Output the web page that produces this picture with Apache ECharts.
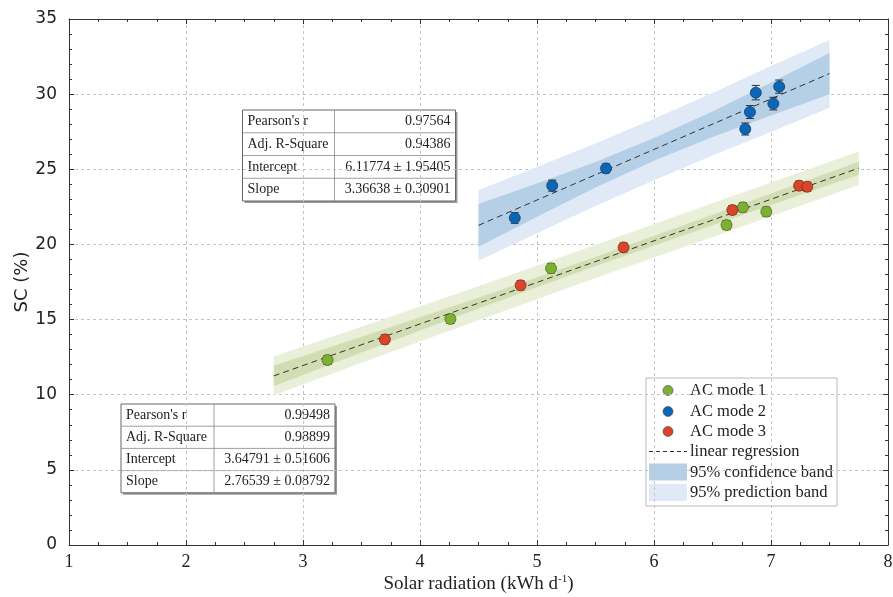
<!DOCTYPE html>
<html>
<head>
<meta charset="utf-8">
<script src="https://cdn.jsdelivr.net/npm/echarts@6/dist/echarts.min.js"></script>
<style>
  html, body { margin: 0; padding: 0; background: #fff; }
  #chart { width: 893px; height: 597px; }
</style>
</head>
<body>
<div id="chart"></div>
<script>
// AC mode 1 (green)
const mode1X = [3.21, 4.26, 5.12, 6.62, 6.76, 6.96];
const mode1Y = [12.31, 15.04, 18.41, 21.29, 22.47, 22.18];
// AC mode 2 (blue)
const mode2X = [4.81, 5.13, 5.59, 6.78, 6.82, 6.87, 7.02, 7.07];
const mode2Y = [21.76, 23.91, 25.06, 27.68, 28.81, 30.10, 29.37, 30.50];
const mode2Err = [0.35, 0.37, 0.3, 0.4, 0.43, 0.48, 0.42, 0.44];
// AC mode 3 (red)
const mode3X = [3.70, 4.86, 5.74, 6.67, 7.24, 7.31];
const mode3Y = [13.68, 17.28, 19.80, 22.29, 23.91, 23.84];
const errSmall = 0.3;

// linear regression end points
const fitAX = [2.75, 7.75];
const fitAY = [11.25, 25.08];
const fitBX = [4.5, 7.5];
const fitBY = [21.27, 31.37];

// bands for modes 1+3 (green)
const bandAX = [2.75, 3.5, 4.5, 5.5, 6.5, 7.75];
const confAUp = [11.93, 13.85, 16.45, 19.16, 21.97, 25.50];
const confALo = [10.57, 12.81, 15.73, 18.56, 21.27, 24.64];
const predAUp = [12.55, 14.53, 17.22, 19.96, 22.74, 26.18];
const predALo = [9.97, 12.13, 14.96, 17.76, 20.50, 23.95];

// bands for mode 2 (blue)
const bandBX = [4.5, 5.0, 5.5, 6.0, 6.5, 7.0, 7.5];
const confBUp = [22.69, 24.05, 25.48, 27.08, 28.85, 30.78, 32.74];
const confBLo = [19.85, 21.85, 23.78, 25.56, 27.15, 28.58, 30.00];
const predBUp = [23.62, 25.15, 26.71, 28.37, 30.08, 31.88, 33.60];
const predBLo = [18.92, 20.75, 22.55, 24.27, 25.92, 27.48, 29.10];

const tableB = [["Pearson's r", "0.97564"], ["Adj. R-Square", "0.94386"],
  ["Intercept", "6.11774 \u00b1 1.95405"], ["Slope", "3.36638 \u00b1 0.30901"]];
const tableA = [["Pearson's r", "0.99498"], ["Adj. R-Square", "0.98899"],
  ["Intercept", "3.64791 \u00b1 0.51606"], ["Slope", "2.76539 \u00b1 0.08792"]];

const legendItems = [
  { label: "AC mode 1", kind: "dot", color: "#7bb032" },
  { label: "AC mode 2", kind: "dot", color: "#0d66b5" },
  { label: "AC mode 3", kind: "dot", color: "#d8452b" },
  { label: "linear regression", kind: "dash" },
  { label: "95% confidence band", kind: "box", color: "#b5cfe7" },
  { label: "95% prediction band", kind: "box", color: "#dfeaf6" },
];

const serif = "Liberation Serif";
const chart = echarts.init(document.getElementById("chart"));

function band(xs, lo, hi, color, z) {
  return {
    type: "custom",
    z: z,
    silent: true,
    data: xs.map((x, i) => [x, lo[i], hi[i]]),
    encode: { x: 0, y: [1, 2] },
    renderItem: (params, api) => {
      if (params.dataIndex !== 0) return null;
      const top = xs.map((x, i) => api.coord([x, hi[i]]));
      const bot = xs.map((x, i) => api.coord([x, lo[i]])).reverse();
      return { type: "polygon", shape: { points: top.concat(bot) }, style: { fill: color } };
    },
  };
}

function errorBars(xs, ys, errs) {
  return {
    type: "custom",
    z: 4,
    silent: true,
    data: xs.map((x, i) => [x, ys[i], Array.isArray(errs) ? errs[i] : errs]),
    renderItem: (params, api) => {
      const x = api.value(0), y = api.value(1), e = api.value(2);
      const a = api.coord([x, y + e]);
      const b = api.coord([x, y - e]);
      const st = { stroke: "#333", lineWidth: 1 };
      return {
        type: "group",
        children: [
          { type: "line", shape: { x1: a[0], y1: a[1], x2: b[0], y2: b[1] }, style: st },
          { type: "line", shape: { x1: a[0] - 4, y1: a[1], x2: a[0] + 4, y2: a[1] }, style: st },
          { type: "line", shape: { x1: b[0] - 4, y1: b[1], x2: b[0] + 4, y2: b[1] }, style: st },
        ],
      };
    },
  };
}

function scatter(name, xs, ys, color, border) {
  return {
    name: name,
    type: "scatter",
    z: 5,
    symbolSize: 11,
    data: xs.map((x, i) => [x, ys[i]]),
    itemStyle: { color: color, borderColor: border, borderWidth: 0.8, opacity: 1 },
  };
}

function fitLine(xs, ys) {
  return {
    type: "line",
    z: 3,
    symbol: "none",
    silent: true,
    data: xs.map((x, i) => [x, ys[i]]),
    lineStyle: { color: "#333", width: 1, type: [6, 4] },
  };
}

function table(rows, left, top, width, divX, rowH) {
  const h = rowH * rows.length;
  const kids = [
    { type: "rect", shape: { x: left + 2, y: top + 2, width: width, height: h }, style: { fill: "#9a9a9a" } },
    { type: "rect", shape: { x: left, y: top, width: width, height: h }, style: { fill: "#fff", stroke: "#666", lineWidth: 1 } },
    { type: "line", shape: { x1: divX, y1: top, x2: divX, y2: top + h }, style: { stroke: "#888", lineWidth: 0.8 } },
  ];
  rows.forEach((r, i) => {
    const cy = top + rowH * i + rowH / 2;
    if (i > 0) {
      kids.push({ type: "line", shape: { x1: left, y1: top + rowH * i, x2: left + width, y2: top + rowH * i }, style: { stroke: "#888", lineWidth: 0.8 } });
    }
    kids.push({ type: "text", x: left + 5, y: cy, style: { text: r[0], font: "14px " + serif, fill: "#222", textVerticalAlign: "middle" } });
    kids.push({ type: "text", x: left + width - 5, y: cy, style: { text: r[1], font: "14px " + serif, fill: "#222", textAlign: "right", textVerticalAlign: "middle" } });
  });
  return { type: "group", children: kids };
}

function legendBox(left, top, width, height) {
  const kids = [
    { type: "rect", shape: { x: left, y: top, width: width, height: height }, style: { fill: "#fff", stroke: "#bbb", lineWidth: 1 } },
  ];
  const rowY = [12.5, 33.5, 53.5, 73.5, 94.5, 115];
  legendItems.forEach((it, i) => {
    const cy = top + rowY[i];
    if (it.kind === "dot") {
      kids.push({ type: "circle", shape: { cx: left + 22, cy: cy, r: 5 }, style: { fill: it.color, stroke: "#444", lineWidth: 0.6 } });
    } else if (it.kind === "dash") {
      kids.push({ type: "line", shape: { x1: left + 3, y1: cy, x2: left + 41, y2: cy }, style: { stroke: "#333", lineWidth: 1, lineDash: [4, 3] } });
    } else {
      kids.push({ type: "rect", shape: { x: left + 3, y: cy - 9, width: 38, height: 17 }, style: { fill: it.color } });
    }
    kids.push({ type: "text", x: left + 44, y: cy, style: { text: it.label, font: "16.5px " + serif, fill: "#222", textVerticalAlign: "middle" } });
  });
  return { type: "group", children: kids };
}

const axisLineStyle = { color: "#333", width: 1 };

chart.setOption({
  animation: false,
  backgroundColor: "#fff",
  grid: { left: 69, right: 5, top: 19, bottom: 52, containLabel: false, outerBoundsMode: "none" },
  xAxis: [
    {
      type: "value", min: 1, max: 8, interval: 1, position: "bottom",
      name: "Solar radiation (kWh d{sup|-1})", nameLocation: "middle", nameGap: 29, nameMoveOverlap: false,
      nameTextStyle: {
        fontFamily: serif, fontSize: 19, color: "#222",
        rich: { sup: { fontFamily: serif, fontSize: 11, color: "#222", verticalAlign: "top", padding: [0, 0, 10, 0] } },
      },
      axisLine: { lineStyle: axisLineStyle },
      axisTick: { inside: true, length: 5, lineStyle: axisLineStyle },
      minorTick: { show: true, splitNumber: 4, length: 3, lineStyle: { color: "#333" } },
      axisLabel: { fontFamily: serif, fontSize: 18, color: "#222", margin: 8 },
      splitLine: { show: true, lineStyle: { color: "#c4c4c4", type: [3, 3] } },
    },
    {
      type: "value", min: 1, max: 8, interval: 1, position: "top",
      axisLine: { onZero: false, lineStyle: axisLineStyle },
      axisTick: { inside: true, length: 5, lineStyle: axisLineStyle },
      minorTick: { show: true, splitNumber: 4, length: 3, lineStyle: { color: "#333" } },
      axisLabel: { show: false },
      splitLine: { show: false },
    },
  ],
  yAxis: [
    {
      type: "value", min: 0, max: 35, interval: 5, position: "left",
      name: "SC (%)", nameLocation: "middle", nameGap: 38, nameMoveOverlap: false,
      nameTextStyle: { fontFamily: "DejaVu Sans", fontSize: 18, color: "#222" },
      axisLine: { show: true, lineStyle: axisLineStyle },
      axisTick: { show: true, inside: true, length: 5, lineStyle: axisLineStyle },
      minorTick: { show: true, splitNumber: 5, length: 3, lineStyle: { color: "#333" } },
      axisLabel: { fontFamily: "DejaVu Sans", fontSize: 17, color: "#222", margin: 12 },
      splitLine: { show: true, lineStyle: { color: "#c4c4c4", type: [3, 3] } },
    },
    {
      type: "value", min: 0, max: 35, interval: 5, position: "right",
      axisLine: { show: true, onZero: false, lineStyle: axisLineStyle },
      axisTick: { show: true, inside: true, length: 5, lineStyle: axisLineStyle },
      minorTick: { show: true, splitNumber: 5, length: 3, lineStyle: { color: "#333" } },
      axisLabel: { show: false },
      splitLine: { show: false },
    },
  ],
  series: [
    band(bandAX, predALo, predAUp, "#e9efd9", 1),
    band(bandAX, confALo, confAUp, "#d2ddb4", 2),
    band(bandBX, predBLo, predBUp, "#dfeaf6", 1),
    band(bandBX, confBLo, confBUp, "#b5cfe7", 2),
    fitLine(fitAX, fitAY),
    fitLine(fitBX, fitBY),
    errorBars(mode1X, mode1Y, errSmall),
    errorBars(mode3X, mode3Y, errSmall),
    errorBars(mode2X, mode2Y, mode2Err),
    scatter("AC mode 1", mode1X, mode1Y, "#7bb032", "#4d6e1d"),
    scatter("AC mode 2", mode2X, mode2Y, "#0d66b5", "#0a3d70"),
    scatter("AC mode 3", mode3X, mode3Y, "#d8452b", "#8a2a18"),
  ],
  graphic: [
    table(tableB, 242.5, 110, 213, 334.5, 22.75),
    table(tableA, 121, 404, 214, 214, 22.2),
    legendBox(646, 378, 191, 128),
  ],
});
</script>
</body>
</html>
